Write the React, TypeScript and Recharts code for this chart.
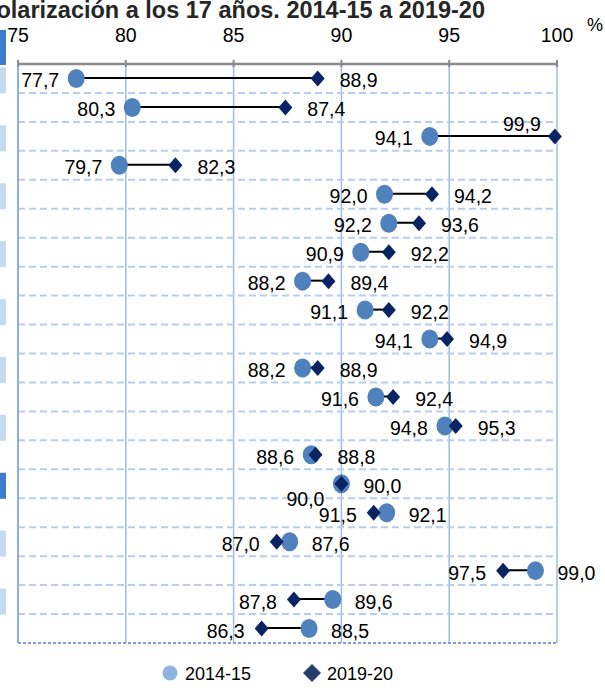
import React from "react";
import {
  ComposedChart,
  XAxis,
  YAxis,
  CartesianGrid,
  Bar,
  Line,
  ReferenceLine,
  Legend,
} from "recharts";

// rows (category names are cut off in the source picture)
const rows = [
  "r1", "r2", "r3", "r4", "r5", "r6", "r7", "r8", "r9", "r10",
  "r11", "r12", "r13", "r14", "r15", "r16", "r17", "r18", "r19", "r20",
];
const curso2014 = [
  77.7, 80.3, 94.1, 79.7, 92.0, 92.2, 90.9, 88.2, 91.1, 94.1,
  88.2, 91.6, 94.8, 88.6, 90.0, 92.1, 87.6, 99.0, 89.6, 88.5,
];
const curso2019 = [
  88.9, 87.4, 99.9, 82.3, 94.2, 93.6, 92.2, 89.4, 92.2, 94.9,
  88.9, 92.4, 95.3, 88.8, 90.0, 91.5, 87.0, 97.5, 87.8, 86.3,
];
const xTicks = [75, 80, 85, 90, 95, 100];
const seriesNames = ["2014-15", "2019-20"];
const totalRow = 14;

const data = rows.map((name, i) => ({
  name,
  a: curso2014[i],
  b: curso2019[i],
  range: [Math.min(curso2014[i], curso2019[i]), Math.max(curso2014[i], curso2019[i])],
}));

const FONT = "'Liberation Sans', Arial, sans-serif";
const CIRCLE = "#4f81bd";
const DIAMOND = "#0a2463";

const fmt = (v: number) => v.toFixed(1).replace(".", ",");

function valueLabel(cx: number, cy: number, own: number, other: number, isFirst: boolean) {
  const onLeft = own < other || (own === other && isFirst);
  let x = onLeft ? cx - 17 : cx + 22;
  let y = cy + 9;
  let anchor: "start" | "end" = onLeft ? "end" : "start";
  if (own === other && isFirst) y += 13;
  // no room on the right edge: put it above, to the left
  if (!onLeft && cx + 60 > 605) {
    x = cx - 14;
    y = cy - 5;
    anchor = "end";
  }
  return (
    <text x={x} y={y} textAnchor={anchor} fontSize={19.5} fontFamily={FONT} fill="#000">
      {fmt(own)}
    </text>
  );
}

const CircleDot = (p: any) => {
  if (p.cx == null || p.cy == null) return <g key={p.index} />;
  const i = p.index;
  return (
    <g key={`c${i}`}>
      <ellipse cx={p.cx} cy={p.cy} rx={8.5} ry={9.5} fill={CIRCLE} />
      {valueLabel(p.cx, p.cy, curso2014[i], curso2019[i], true)}
    </g>
  );
};

const DiamondDot = (p: any) => {
  if (p.cx == null || p.cy == null) return <g key={p.index} />;
  const i = p.index;
  const { cx, cy } = p;
  return (
    <g key={`d${i}`}>
      <polygon
        points={`${cx},${cy - 8} ${cx + 7},${cy} ${cx},${cy + 8} ${cx - 7},${cy}`}
        fill={DIAMOND}
      />
      {valueLabel(cx, cy, curso2019[i], curso2014[i], false)}
    </g>
  );
};

const XTick = (p: any) => (
  <g>
    <line x1={p.x} x2={p.x} y1={p.y - 4} y2={p.y + 3} stroke="#8a8a8a" strokeWidth={2} />
    <text x={p.x} y={p.y - 22} textAnchor="middle" fontSize={19.5} fontFamily={FONT} fill="#000">
      {p.payload.value}
    </text>
  </g>
);

const YTick = (p: any) => {
  const i = p.index;
  if (i % 2 !== 0) return <g />;
  return (
    <rect
      x={0}
      y={p.y - 11}
      width={6}
      height={26}
      fill={i === totalRow ? "#3f7bcc" : "#c6d9f1"}
    />
  );
};

const LegendContent = (props: any) => {
  const items = (props.payload || []).filter((e: any) => e.type !== "none");
  return (
    <svg width={605} height={34}>
      {items.map((e: any, i: number) => {
        const x = 170 + i * 142;
        return (
          <g key={e.value}>
            {i === 0 ? (
              <circle cx={x} cy={17} r={7.5} fill="#8db3e2" />
            ) : (
              <polygon points={`${x},${8} ${x + 9},${17} ${x},${26} ${x - 9},${17}`} fill="#243f6b" />
            )}
            <text x={x + 15} y={24} fontSize={18} fontFamily={FONT} fill="#000">
              {e.value}
            </text>
          </g>
        );
      })}
    </svg>
  );
};

export default function App() {
  return (
    <div style={{ position: "absolute", left: 0, top: 0, width: 605, height: 691, overflow: "hidden", background: "#fff" }}>
      <div
        style={{
          position: "absolute",
          right: 120,
          top: -1,
          whiteSpace: "nowrap",
          fontFamily: FONT,
          fontWeight: "bold",
          fontSize: 23.5,
          lineHeight: "23px",
          color: "#262626",
        }}
      >
        olarización a los 17 años. 2014-15 a 2019-20
      </div>
      <div style={{ position: "absolute", left: 587, top: 16, fontFamily: FONT, fontSize: 18, lineHeight: "18px" }}>%</div>
      <div style={{ position: "absolute", left: 0, top: 30, width: 6, height: 35, background: "#3f7bcc" }} />
      <div style={{ position: "absolute", left: 0, top: 0 }}>
        <ComposedChart
          width={605}
          height={691}
          data={data}
          layout="vertical"
          margin={{ top: 30, right: 48, bottom: 48, left: 0 }}
        >
          <CartesianGrid horizontal={false} vertical stroke="#9dbbe3" strokeWidth={1.5} />
          <XAxis
            type="number"
            orientation="top"
            domain={[75, 100]}
            ticks={xTicks}
            height={34}
            tickSize={0}
            tickMargin={0}
            axisLine={{ stroke: "#8a8a8a", strokeWidth: 2.5 }}
            tick={<XTick />}
            interval={0}
          />
          <YAxis
            type="category"
            dataKey="name"
            width={18}
            axisLine={false}
            tickLine={false}
            tick={<YTick />}
            interval={0}
          />
          {rows.slice(0, -1).map((r) => (
            <ReferenceLine
              key={r}
              y={r}
              position="end"
              stroke="#b8cdee"
              strokeWidth={2}
              strokeDasharray="7 4"
            />
          ))}
          <ReferenceLine y={rows[rows.length - 1]} position="end" stroke="#7f9fd4" strokeWidth={2} strokeDasharray="3 2" />
          <ReferenceLine x={75} stroke="#8eaede" strokeWidth={2} />
          <Bar dataKey="range" barSize={2} fill="#000" legendType="none" isAnimationActive={false} />
          <Line
            dataKey="a"
            name={seriesNames[0]}
            stroke="none"
            dot={CircleDot}
            activeDot={false}
            isAnimationActive={false}
          />
          <Line
            dataKey="b"
            name={seriesNames[1]}
            stroke="none"
            dot={DiamondDot}
            activeDot={false}
            isAnimationActive={false}
          />
          <Legend
            verticalAlign="middle"
            align="center"
            layout="horizontal"
            content={<LegendContent />}
            wrapperStyle={{ top: 656, left: 0, width: 605, height: 34 }}
          />
        </ComposedChart>
      </div>
    </div>
  );
}
